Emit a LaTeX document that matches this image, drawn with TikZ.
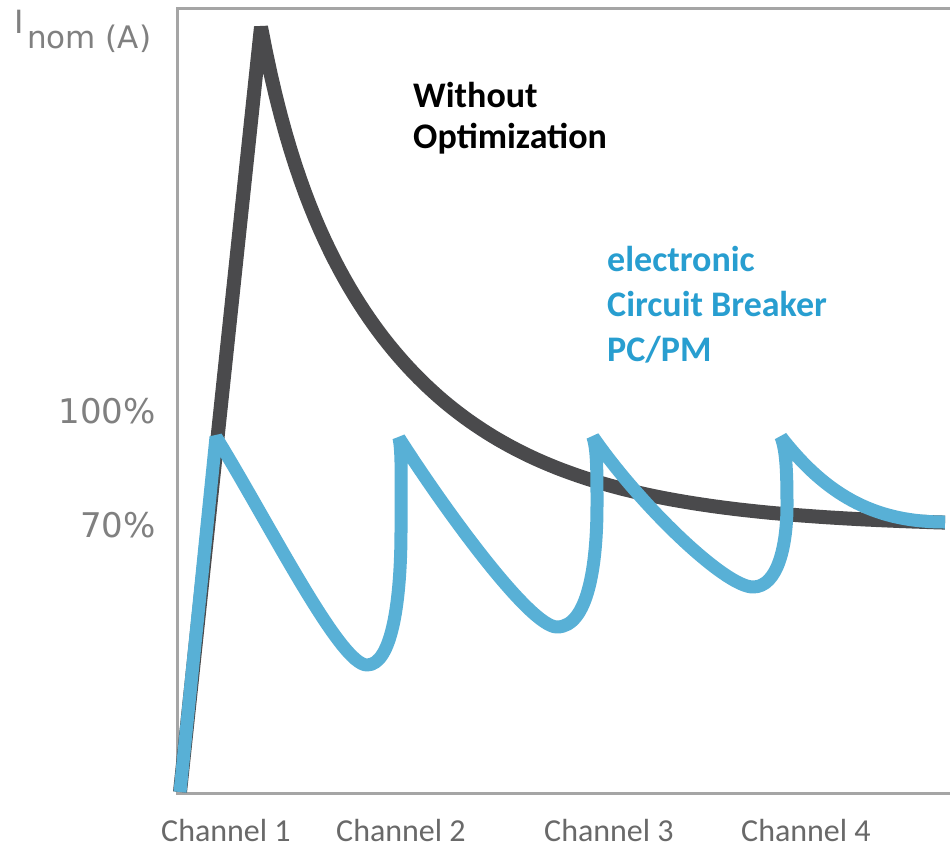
\documentclass[tikz,border=0pt]{standalone}
\usepackage{fontspec}
\setmainfont{Carlito}
\newfontfamily\axisfont{DejaVu Sans}
\definecolor{curveblue}{RGB}{88,176,214}
\definecolor{textblue}{RGB}{40,158,208}
\definecolor{curvegray}{RGB}{74,74,76}
\definecolor{framegray}{RGB}{165,165,165}
\definecolor{labelgray}{RGB}{128,128,128}
\definecolor{chgray}{RGB}{105,105,105}
\tikzset{
  framestyle/.style={draw=framegray, line width=3pt},
  blackcurve/.style={draw=curvegray, line width=14pt, line join=bevel},
  bluecurve/.style={draw=curveblue, line width=13pt, line join=bevel},
  axislabel/.style={inner sep=0pt, text=labelgray, font=\axisfont\fontsize{34}{40}\selectfont},
  chlabel/.style={inner sep=0pt, anchor=base west, text=chgray, font=\fontsize{32}{36}\selectfont},
  titlelabel/.style={inner sep=0pt, anchor=base west, text=black, font=\bfseries\fontsize{36}{42}\selectfont},
  bluelabel/.style={inner sep=0pt, anchor=base west, text=textblue, font=\bfseries\fontsize{36}{42}\selectfont}
}
\begin{document}
\begin{tikzpicture}[x=1pt,y=-1pt]
\useasboundingbox[fill=white] (0,0) rectangle (950,849);
% frame
\draw[framestyle] (950,8) -- (177,8) -- (177,793) -- (950,793);
% curve without optimization
\draw[blackcurve] (180,792) -- plot[domain=261:945, samples=140]
  (\x, {527 - 500*(0.15*exp(-(\x-261)/30) + 0.85*exp(-(\x-261)/150))});
% electronic circuit breaker curve
\draw[bluecurve] (180,792) -- (216,437)
  .. controls (270,525) and (340,665) .. (367,665)
  .. controls (392,665) and (401,600) .. (401,530)
  .. controls (401,480) and (402,452) .. (399,438)
  .. controls (445,510) and (530,627) .. (557,627)
  .. controls (588,627) and (597,565) .. (597,505)
  .. controls (597,470) and (597,450) .. (593,437)
  .. controls (640,505) and (725,587) .. (753,587)
  .. controls (778,587) and (787,545) .. (787,505)
  .. controls (787,470) and (786,450) .. (781,437)
  .. controls (830,500) and (880,522) .. (945,522);
% axis labels
\node[axislabel, anchor=base west, font=\axisfont\fontsize{32}{38}\selectfont] (inom) at (14,33) {I};
\node[axislabel, anchor=base west, font=\axisfont\fontsize{31}{36}\selectfont] (inomsub) at (27,48) {nom (A)};
\node[axislabel, anchor=base east] (p100) at (156,423) {100\%};
\node[axislabel, anchor=base east] (p70) at (156,537) {70\%};
% curve labels
\node[titlelabel] (wo1) at (413,107) {Without};
\node[titlelabel] (wo2) at (413,148) {Optimization};
\node[bluelabel] (ecb1) at (607,271) {electronic};
\node[bluelabel] (ecb2) at (607,316) {Circuit Breaker};
\node[bluelabel] (ecb3) at (607,361) {PC/PM};
% channel labels
\node[chlabel] (ch1) at (161,841) {Channel 1};
\node[chlabel] (ch2) at (336,841) {Channel 2};
\node[chlabel] (ch3) at (544,841) {Channel 3};
\node[chlabel] (ch4) at (741,841) {Channel 4};
\end{tikzpicture}
\end{document}
